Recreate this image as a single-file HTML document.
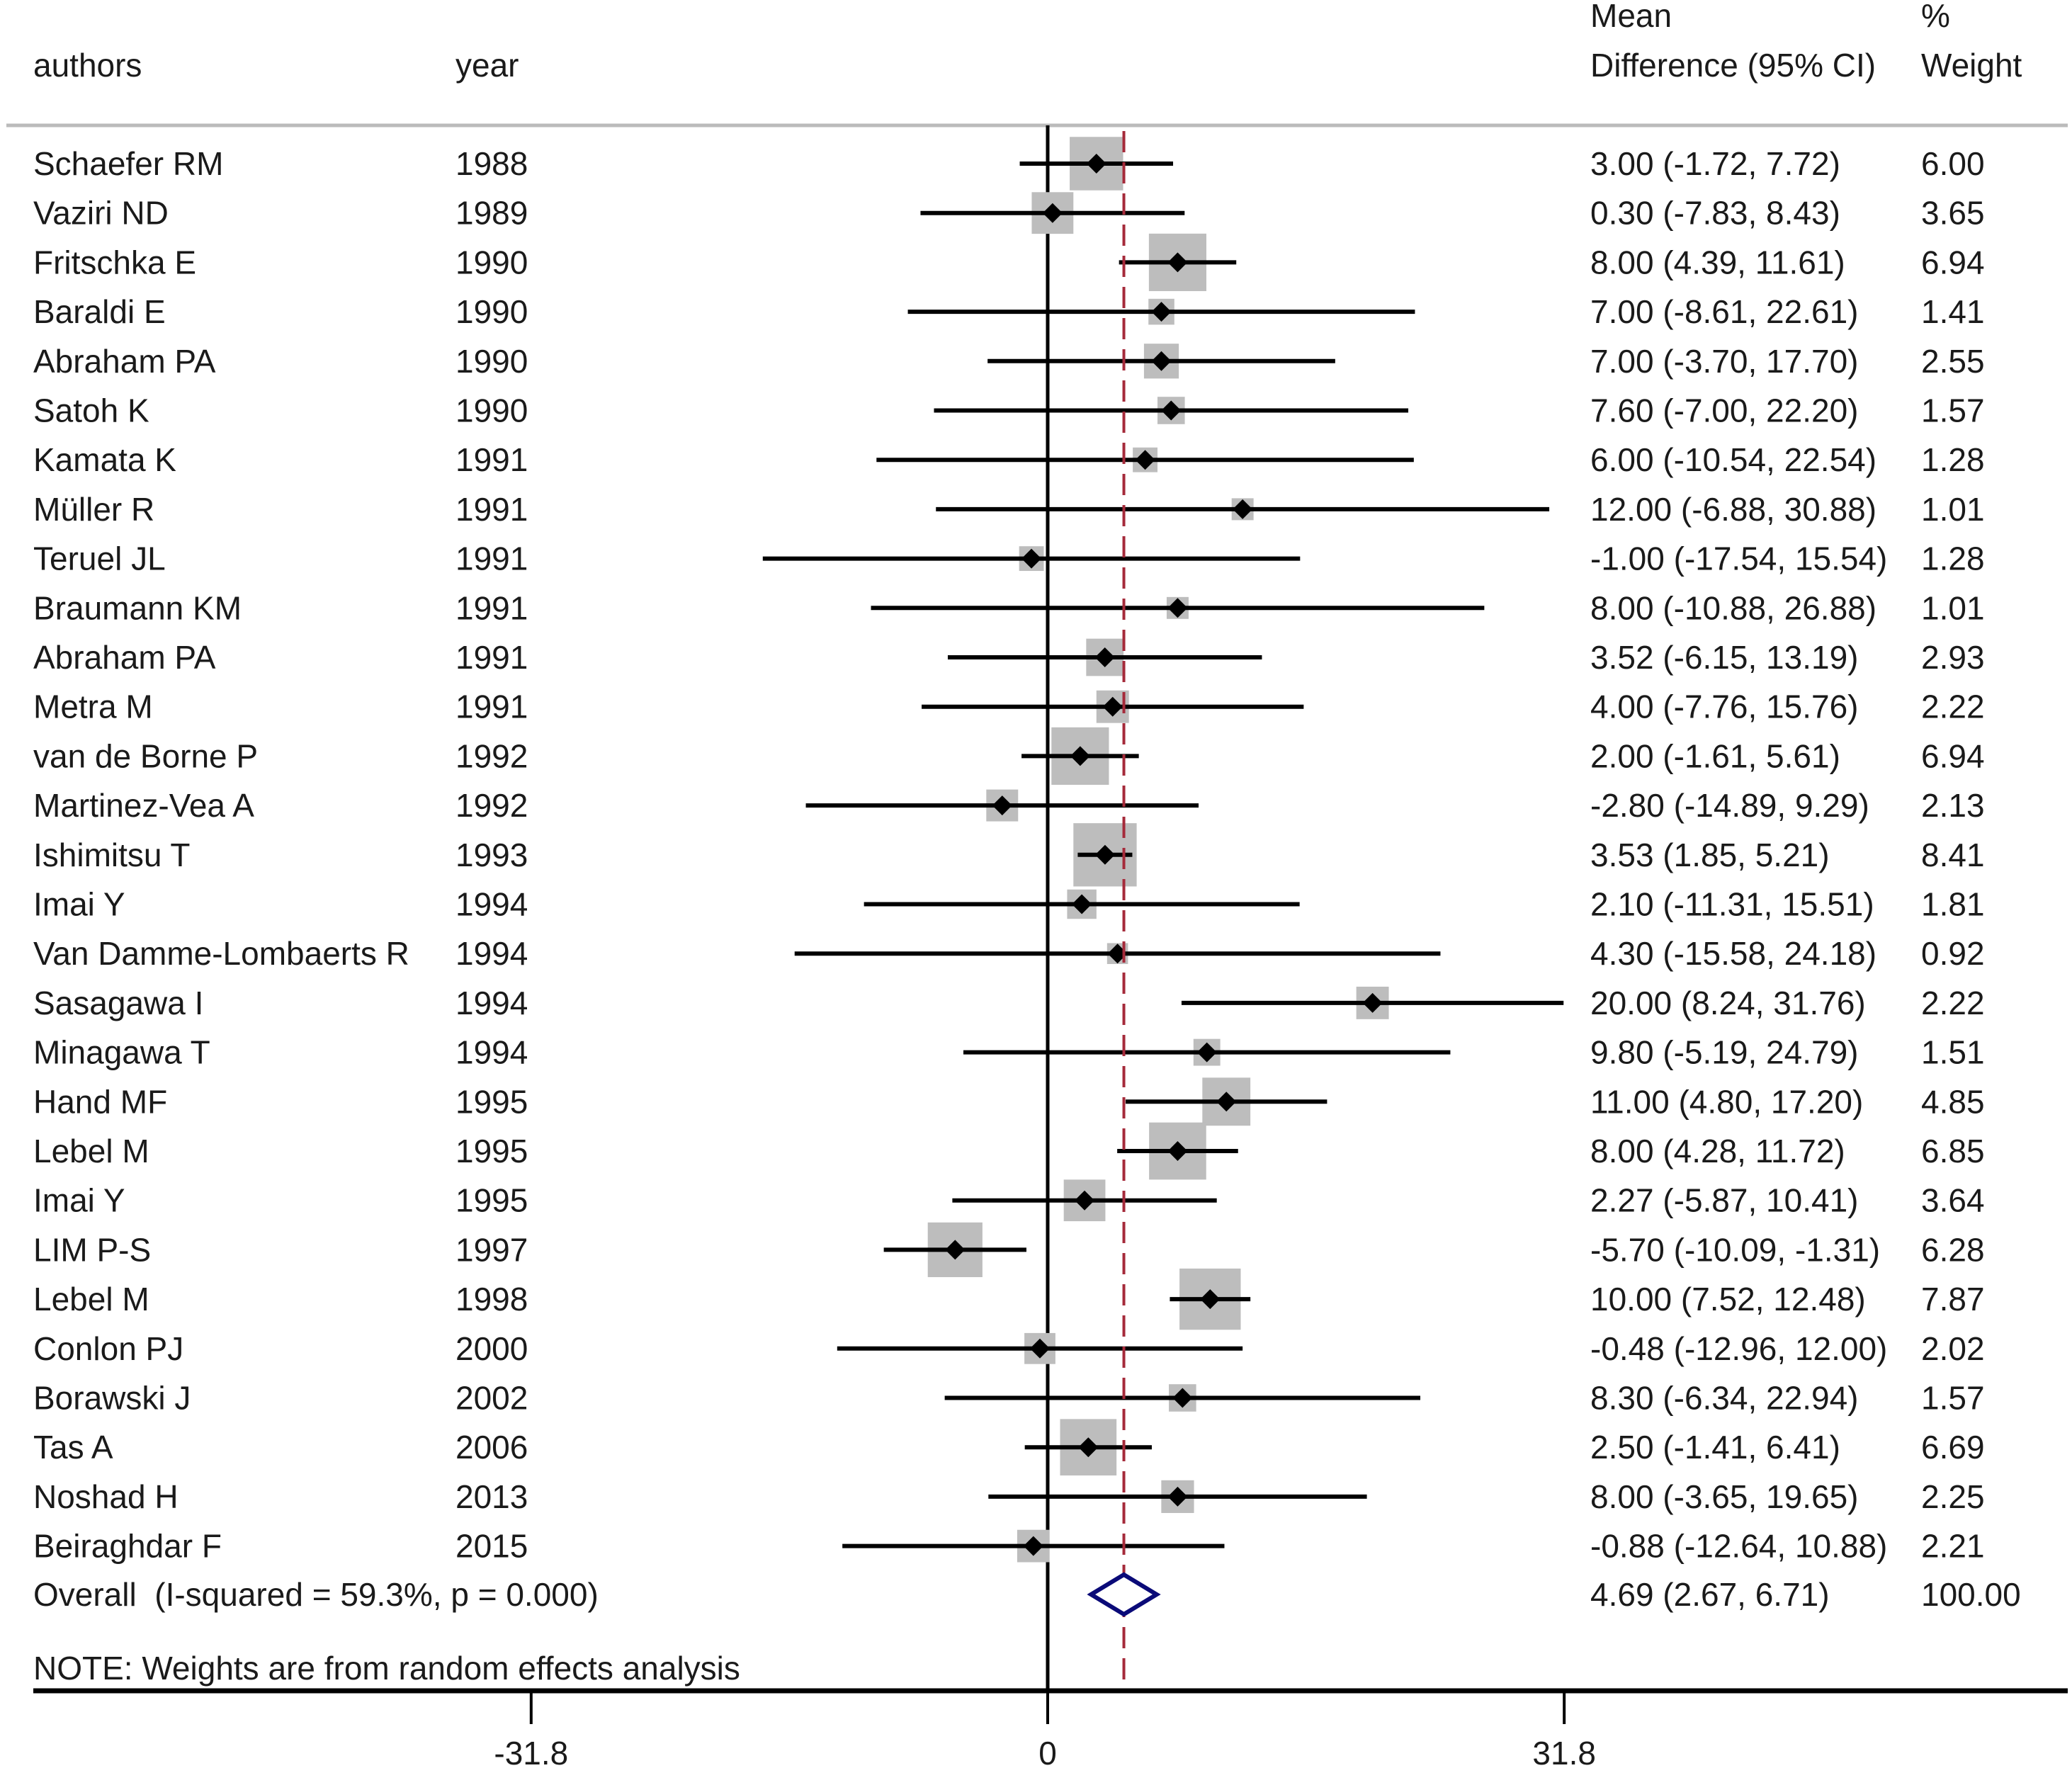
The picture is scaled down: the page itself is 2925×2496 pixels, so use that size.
<!DOCTYPE html>
<html><head><meta charset="utf-8"><style>
html,body{margin:0;padding:0;background:#fff}
svg{display:block;font-family:"Liberation Sans",Arial,sans-serif}
</style></head><body>
<svg id="chart" width="2925" height="2496" viewBox="0 0 2925 2496" xmlns="http://www.w3.org/2000/svg">
<g id="hdr" font-size="46" fill="#1a1a1a">
<text x="47" y="108">authors</text>
<text x="643" y="108">year</text>
<text x="2245" y="38">Mean</text>
<text x="2245" y="108">Difference (95% CI)</text>
<text x="2712" y="38">%</text>
<text x="2712" y="108">Weight</text>
</g>
<line x1="9" y1="177" x2="2919" y2="177" stroke="#bbb" stroke-width="5"/>
<g id="rows"></g>
<g id="marks"></g>
</svg>
<script>
const authors=["Schaefer RM","Vaziri ND","Fritschka E","Baraldi E","Abraham PA","Satoh K","Kamata K","Müller R","Teruel JL","Braumann KM","Abraham PA","Metra M","van de Borne P","Martinez-Vea A","Ishimitsu T","Imai Y","Van Damme-Lombaerts R","Sasagawa I","Minagawa T","Hand MF","Lebel M","Imai Y","LIM P-S","Lebel M","Conlon PJ","Borawski J","Tas A","Noshad H","Beiraghdar F"];
const years=[1988,1989,1990,1990,1990,1990,1991,1991,1991,1991,1991,1991,1992,1992,1993,1994,1994,1994,1994,1995,1995,1995,1997,1998,2000,2002,2006,2013,2015];
const md=[3.00,0.30,8.00,7.00,7.00,7.60,6.00,12.00,-1.00,8.00,3.52,4.00,2.00,-2.80,3.53,2.10,4.30,20.00,9.80,11.00,8.00,2.27,-5.70,10.00,-0.48,8.30,2.50,8.00,-0.88];
const lo=[-1.72,-7.83,4.39,-8.61,-3.70,-7.00,-10.54,-6.88,-17.54,-10.88,-6.15,-7.76,-1.61,-14.89,1.85,-11.31,-15.58,8.24,-5.19,4.80,4.28,-5.87,-10.09,7.52,-12.96,-6.34,-1.41,-3.65,-12.64];
const hi=[7.72,8.43,11.61,22.61,17.70,22.20,22.54,30.88,15.54,26.88,13.19,15.76,5.61,9.29,5.21,15.51,24.18,31.76,24.79,17.20,11.72,10.41,-1.31,12.48,12.00,22.94,6.41,19.65,10.88];
const weights=[6.00,3.65,6.94,1.41,2.55,1.57,1.28,1.01,1.28,1.01,2.93,2.22,6.94,2.13,8.41,1.81,0.92,2.22,1.51,4.85,6.85,3.64,6.28,7.87,2.02,1.57,6.69,2.25,2.21];
const overall=[4.69,2.67,6.71];
const tickVals=[-31.8,0,31.8];
const tickLabels=["-31.8","0","31.8"];

const NS="http://www.w3.org/2000/svg";
const X0=1479, PX=22.93;
const xs=v=>X0+v*PX;
const ys=i=>231+i*69.7;
const fmt=v=>v.toFixed(2);
const rows=document.getElementById('rows'), marks=document.getElementById('marks');
function mk(tag,attrs,parent,txt){const e=document.createElementNS(NS,tag);for(const k in attrs)e.setAttribute(k,attrs[k]);if(txt!==undefined)e.textContent=txt;parent.appendChild(e);return e;}
let zl=mk('line',{x1:xs(0),y1:177,x2:xs(0),y2:2387,stroke:'#000','stroke-width':5},marks);


for(let i=0;i<authors.length;i++){
  const y=ys(i), w=30.8*Math.sqrt(weights[i]);
  const t1=mk('text',{x:47,y:y+16,'font-size':46,fill:'#1a1a1a'},rows,authors[i]);
  
  
  const t2=mk('text',{x:643,y:y+16,'font-size':46,fill:'#1a1a1a'},rows,String(years[i]));
  
  
  const t3=mk('text',{x:2245,y:y+16,'font-size':46,fill:'#1a1a1a'},rows,fmt(md[i])+" ("+fmt(lo[i])+", "+fmt(hi[i])+")");
  
  
  const t4=mk('text',{x:2712,y:y+16,'font-size':46,fill:'#1a1a1a'},rows,fmt(weights[i]));
  
  
  const b=mk('rect',{x:xs(md[i])-w/2,y:y-w/2,width:w,height:w,fill:'#bdbdbd'},marks);
  
  
  const l=mk('line',{x1:xs(lo[i]),y1:y,x2:xs(hi[i]),y2:y,stroke:'#000','stroke-width':6},marks);
  
  
  const cx=xs(md[i]), d=14;
  const p=mk('polygon',{points:`${cx},${y-d} ${cx+d},${y} ${cx},${y+d} ${cx-d},${y}`,fill:'#000'},marks);
  
  
}
const ol=mk('line',{x1:xs(overall[0]),y1:185,x2:xs(overall[0]),y2:2387,stroke:'#a52a3a','stroke-width':4,'stroke-dasharray':'30 14'},marks);


const oy=2251;
const od=mk('polygon',{points:`${xs(overall[1])},${oy} ${xs(overall[0])},${oy-28} ${xs(overall[2])},${oy} ${xs(overall[0])},${oy+28}`,fill:'#fff',stroke:'#0a0a78','stroke-width':6},marks);


const ot=mk('text',{x:47,y:oy+16,'font-size':46,fill:'#1a1a1a'},rows,"Overall\u00a0 (I-squared = 59.3%, p = 0.000)");


const oc=mk('text',{x:2245,y:oy+16,'font-size':46,fill:'#1a1a1a'},rows,fmt(overall[0])+" ("+fmt(overall[1])+", "+fmt(overall[2])+")");


const ow=mk('text',{x:2712,y:oy+16,'font-size':46,fill:'#1a1a1a'},rows,"100.00");


const nt=mk('text',{x:47,y:2371,'font-size':46,fill:'#1a1a1a'},rows,"NOTE: Weights are from random effects analysis");


const ax=mk('line',{x1:47,y1:2387,x2:2919,y2:2387,stroke:'#000','stroke-width':7},marks);


for(let k=0;k<tickVals.length;k++){
  const tx=xs(tickVals[k]);
  const tk=mk('line',{x1:tx,y1:2387,x2:tx,y2:2434,stroke:'#000','stroke-width':4},marks);
  
  
  const tl=mk('text',{x:tx,y:2491,'font-size':46,fill:'#1a1a1a','text-anchor':'middle'},marks,tickLabels[k]);
  
  
}
</script>
</body></html>
